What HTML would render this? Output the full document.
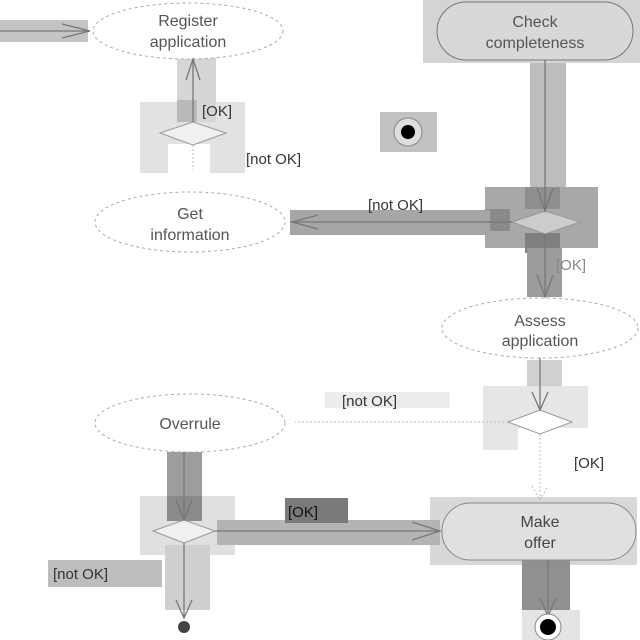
<!DOCTYPE html>
<html><head><style>body{margin:0;background:#fff}svg{display:block}</style></head><body>
<svg width="640" height="640" viewBox="0 0 640 640" xmlns="http://www.w3.org/2000/svg" font-family="Liberation Sans, sans-serif" font-size="16" fill="none">
<g stroke="none">
<rect x="0" y="20" width="88" height="22" fill="#c4c4c4"/>
<rect x="423" y="0" width="217" height="63" fill="#d4d4d4"/>
<rect x="530" y="63" width="36" height="127" fill="#bdbdbd"/>
<rect x="485" y="187" width="113" height="61" fill="#a8a8a8"/>
<rect x="485" y="209" width="25" height="22" fill="#8a8a8a"/>
<rect x="525" y="187" width="35" height="22" fill="#8f8f8f"/>
<rect x="525" y="233" width="35" height="20" fill="#7f7f7f"/>
<rect x="290" y="210" width="200" height="25" fill="#a6a6a6"/>
<rect x="527" y="248" width="35" height="49" fill="#9c9c9c"/>
<rect x="140" y="102" width="105" height="71" fill="#e2e2e2"/>
<rect x="168" y="144" width="42" height="29" fill="#fff"/>
<rect x="177" y="57" width="39" height="65" fill="#d6d6d6"/>
<rect x="177" y="100" width="20" height="22" fill="#b9b9b9"/>
<rect x="380" y="112" width="57" height="40" fill="#c2c2c2"/>
<rect x="527" y="360" width="35" height="50" fill="#d0d0d0"/>
<rect x="483" y="386" width="105" height="42" fill="#e6e6e6"/>
<rect x="483" y="428" width="35" height="22" fill="#e6e6e6"/>
<rect x="325" y="392" width="125" height="16" fill="#ececec"/>
<rect x="430" y="497" width="207" height="68" fill="#d8d8d8"/>
<rect x="167" y="452" width="35" height="70" fill="#9d9d9d"/>
<rect x="140" y="496" width="95" height="59" fill="#e0e0e0"/>
<rect x="167" y="496" width="35" height="25" fill="#8a8a8a"/>
<rect x="217" y="520" width="223" height="25" fill="#b4b4b4"/>
<rect x="285" y="498" width="63" height="25" fill="#7a7a7a"/>
<rect x="48" y="560" width="114" height="27" fill="#bdbdbd"/>
<rect x="165" y="545" width="45" height="65" fill="#cfcfcf"/>
<rect x="522" y="560" width="48" height="50" fill="#909090"/>
<rect x="522" y="610" width="58" height="30" fill="#e4e4e4"/>
</g>
<g stroke="#aaa" stroke-dasharray="3 3" fill="#fff">
<ellipse cx="188" cy="31" rx="95" ry="28"/>
<ellipse cx="190" cy="222" rx="95" ry="30"/>
<ellipse cx="540" cy="328" rx="98" ry="30"/>
<ellipse cx="190" cy="423" rx="95" ry="29"/>
</g>
<rect x="437" y="2" width="196" height="58" rx="29" fill="#d8d8d8" stroke="#777"/>
<rect x="442" y="503" width="194" height="57" rx="28" fill="#e0e0e0" stroke="#888"/>
<g stroke="#999" fill="#f0f0f0">
<polygon points="160,133 193,122 226,133 193,145"/>
<polygon points="512,222 545,211 580,222 545,234" fill="#ccc"/>
<polygon points="508,422 540,410 572,422 540,434" fill="#fff"/>
<polygon points="153,531 184,520 215,531 184,543"/>
</g>
<g stroke="#777" stroke-width="1.3">
<line x1="0" y1="31" x2="90" y2="31"/><polyline points="62,24 90,31 62,38"/>
<line x1="545" y1="60" x2="545" y2="211"/><polyline points="537,188 545,211 553,188"/>
<line x1="512" y1="222" x2="290" y2="222"/><polyline points="318,215 292,222 318,229"/>
<line x1="545" y1="234" x2="545" y2="297"/><polyline points="537,275 545,297 553,275"/>
<line x1="193" y1="122" x2="193" y2="59"/><polyline points="186,80 193,59 200,80"/>
<line x1="540" y1="358" x2="540" y2="410"/><polyline points="532,392 540,410 548,392"/>
<line x1="184" y1="452" x2="184" y2="520"/><polyline points="176,500 184,520 192,500"/>
<line x1="215" y1="531" x2="440" y2="531"/><polyline points="412,522 440,531 412,540"/>
<line x1="184" y1="543" x2="184" y2="618"/><polyline points="176,600 184,618 192,600"/>
<line x1="548" y1="560" x2="548" y2="616"/><polyline points="540,598 548,616 556,598"/>
</g>
<g stroke="#bbb" stroke-dasharray="2 2">
<line x1="193" y1="145" x2="193" y2="170"/>
<line x1="508" y1="422" x2="295" y2="422"/>
<line x1="540" y1="434" x2="540" y2="500"/><polyline points="532,486 540,500 548,486"/>
</g>
<circle cx="408" cy="132" r="14" fill="#ddd" stroke="#888"/><circle cx="408" cy="132" r="7" fill="#000"/>
<circle cx="548" cy="627" r="13" fill="#fff" stroke="#888"/><circle cx="548" cy="627" r="8" fill="#000"/>
<circle cx="184" cy="627" r="6" fill="#444"/>
<g fill="#555" text-anchor="middle">
<text x="188" y="26">Register</text><text x="188" y="47">application</text>
<text x="535" y="27">Check</text><text x="535" y="48">completeness</text>
<text x="190" y="219">Get</text><text x="190" y="240">information</text>
<text x="540" y="326">Assess</text><text x="540" y="346">application</text>
<text x="190" y="429">Overrule</text>
<text x="540" y="527" fill="#444">Make</text><text x="540" y="548" fill="#444">offer</text>
</g>
<g fill="#333" font-size="15">
<text x="202" y="116">[OK]</text>
<text x="246" y="164">[not OK]</text>
<text x="368" y="210">[not OK]</text>
<text x="556" y="270" fill="#888">[OK]</text>
<text x="342" y="406">[not OK]</text>
<text x="574" y="468">[OK]</text>
<text x="288" y="517" fill="#111">[OK]</text>
<text x="53" y="579">[not OK]</text>
</g>
</svg>
</body></html>
